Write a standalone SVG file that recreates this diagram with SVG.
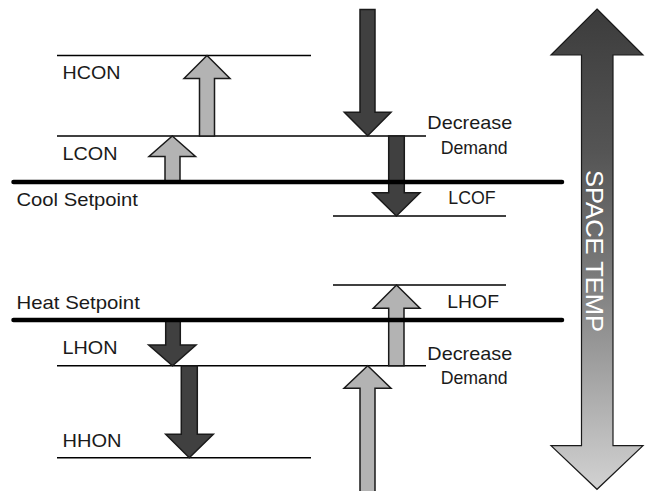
<svg xmlns="http://www.w3.org/2000/svg" width="645" height="491" viewBox="0 0 645 491">
  <style>
    .thin { stroke: #000; stroke-width: 1.5; fill: none; }
    .thick { stroke: #000; stroke-width: 4.5; stroke-linecap: round; fill: none; }
    .light { fill: #b3b3b3; stroke: #1a1a1a; stroke-width: 1.5; stroke-linejoin: miter; }
    .dark { fill: #404040; stroke: #1a1a1a; stroke-width: 1.5; stroke-linejoin: miter; }
    .lbl { font-family: "Liberation Sans", Arial, sans-serif; font-size: 19px; fill: #1a1a1a; }
    .big { font-family: "Liberation Sans", Arial, sans-serif; font-size: 24px; fill: #ffffff; }
  </style>
  <defs>
    <linearGradient id="tempGrad" gradientUnits="userSpaceOnUse" x1="0" y1="9" x2="0" y2="489">
      <stop offset="0" stop-color="#3c3c3c"/>
      <stop offset="0.3" stop-color="#555555"/>
      <stop offset="0.55" stop-color="#7a7a7a"/>
      <stop offset="1" stop-color="#d2d2d2"/>
    </linearGradient>
  </defs>
  <rect width="645" height="491" fill="#ffffff"/>

  <g id="levels">
    <line class="thin" x1="57" y1="55.5" x2="311" y2="55.5"/>
    <line class="thin" x1="57" y1="136" x2="426" y2="136"/>
    <line class="thin" x1="333" y1="216" x2="506" y2="216"/>
    <line class="thin" x1="333" y1="285" x2="506" y2="285"/>
    <line class="thin" x1="57" y1="365.7" x2="426" y2="365.7"/>
    <line class="thin" x1="57" y1="457.7" x2="311" y2="457.7"/>
  </g>

  <g id="connectors">
    <path id="arrow-hcon" class="light" d="M207,55.5 L230,78.5 L214.5,78.5 L214.5,136 L199.5,136 L199.5,78.5 L184,78.5 Z"/>
    <path id="arrow-lcon" class="light" d="M172.3,136 L195.5,156.5 L180,156.5 L180,182 L165,182 L165,156.5 L149,156.5 Z"/>
    <path id="arrow-cool-decrease" class="dark" d="M360,9.5 L375,9.5 L375,112.3 L391,112.3 L367.7,135.7 L344.3,112.3 L360,112.3 Z"/>
    <path id="arrow-lcof" class="dark" d="M388.7,136 L404.3,136 L404.3,192.7 L420,192.7 L396.4,216 L372.7,192.7 L388.7,192.7 Z"/>
    <path id="arrow-lhof" class="light" d="M396.5,285 L420,308.3 L404,308.3 L404,365.7 L388.7,365.7 L388.7,308.3 L373.3,308.3 Z"/>
    <path id="arrow-heat-decrease" class="light" d="M367.7,365.7 L391,388.3 L375,388.3 L375,496 L360,496 L360,388.3 L344,388.3 Z"/>
    <path id="arrow-lhon" class="dark" d="M165.7,320 L180.3,320 L180.3,345 L196,345 L172.5,365.7 L148.7,345 L165.7,345 Z"/>
    <path id="arrow-hhon" class="dark" d="M181.3,366 L197.3,366 L197.3,434.3 L213.3,434.3 L189.3,457.7 L165.7,434.3 L181.3,434.3 Z"/>
  </g>

  <g id="setpoints">
    <line id="cool-setpoint-line" class="thick" x1="13.5" y1="182" x2="562" y2="182"/>
    <line id="heat-setpoint-line" class="thick" x1="13.5" y1="320" x2="562" y2="320"/>
  </g>

  <g id="space-temp">
    <path d="M597,9 L643,55 L613,55 L613,445.7 L643,445.7 L597,489.3 L551,445.7 L581.5,445.7 L581.5,55 L551,55 Z" fill="url(#tempGrad)" stroke="#1a1a1a" stroke-width="1.2"/>
    <text class="big" transform="translate(585.5,170) rotate(90)" x="0" y="0" textLength="162" lengthAdjust="spacingAndGlyphs">SPACE TEMP</text>
  </g>

  <g id="labels">
    <text id="hcon" class="lbl" x="62.5" y="79" textLength="58" lengthAdjust="spacingAndGlyphs">HCON</text>
    <text id="lcon" class="lbl" x="62.5" y="160" textLength="55" lengthAdjust="spacingAndGlyphs">LCON</text>
    <text id="cool-setpoint" class="lbl" x="16.5" y="205.5" textLength="121.5" lengthAdjust="spacingAndGlyphs">Cool Setpoint</text>
    <text class="lbl" x="427.3" y="129.3" textLength="85" lengthAdjust="spacingAndGlyphs">Decrease</text>
    <text class="lbl" x="440.7" y="154" textLength="67" lengthAdjust="spacingAndGlyphs">Demand</text>
    <text id="lcof" class="lbl" x="448.3" y="204.3" textLength="47.3" lengthAdjust="spacingAndGlyphs">LCOF</text>
    <text id="heat-setpoint" class="lbl" x="16.5" y="309" textLength="123.3" lengthAdjust="spacingAndGlyphs">Heat Setpoint</text>
    <text id="lhof" class="lbl" x="447.3" y="308.3" textLength="51.7" lengthAdjust="spacingAndGlyphs">LHOF</text>
    <text class="lbl" x="427.3" y="360" textLength="85" lengthAdjust="spacingAndGlyphs">Decrease</text>
    <text class="lbl" x="440.7" y="384" textLength="67" lengthAdjust="spacingAndGlyphs">Demand</text>
    <text id="lhon" class="lbl" x="62.5" y="354.3" textLength="55" lengthAdjust="spacingAndGlyphs">LHON</text>
    <text id="hhon" class="lbl" x="62.5" y="446.7" textLength="59" lengthAdjust="spacingAndGlyphs">HHON</text>
  </g>
</svg>
